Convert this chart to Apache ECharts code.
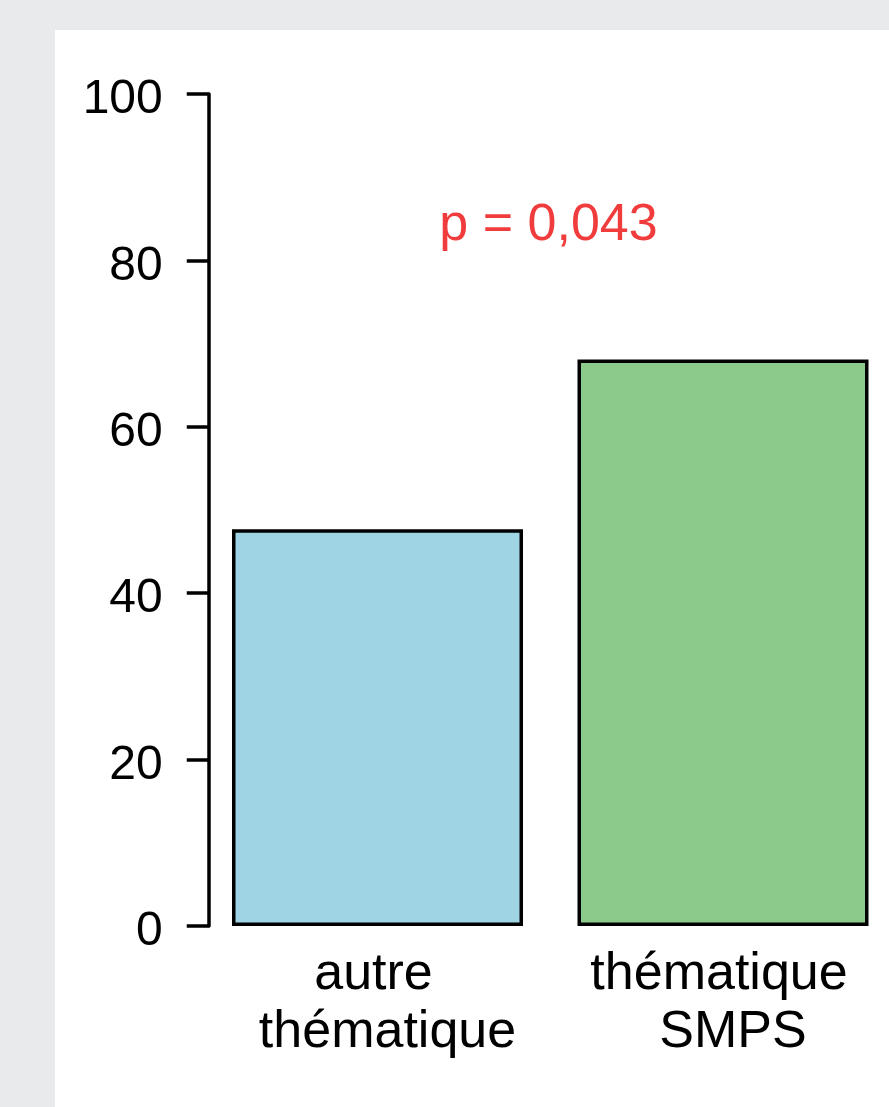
<!DOCTYPE html>
<html>
<head>
<meta charset="utf-8">
<script src="https://cdn.jsdelivr.net/npm/echarts@6/dist/echarts.min.js"></script>
<style>
html,body{margin:0;padding:0;background:#e9eaec;}
#panel{position:absolute;left:55px;top:30px;right:0;bottom:0;background:#ffffff;}
#chart{position:absolute;left:0;top:0;width:889px;height:1107px;}
</style>
</head>
<body>
<div id="panel"></div>
<div id="chart"></div>
<script>
var categories = ['autre\nthématique', 'thématique\nSMPS'];
var values = [47.7, 68.1];
var barColors = ['#9ed4e4', '#8cca8c'];
var yTicks = [0, 20, 40, 60, 80, 100];
var annotation = 'p = 0,043';

var chart = echarts.init(document.getElementById('chart'), null, {renderer: 'canvas'});
var font = '"Liberation Sans", Arial, sans-serif';
var xFont = {color: '#000', fontFamily: font, fontSize: 52, lineHeight: 58};
chart.setOption({
  backgroundColor: 'transparent',
  animation: false,
  grid: {left: 204.75, top: 94, width: 691, height: 832, containLabel: false, outerBoundsMode: 'none'},
  xAxis: {
    type: 'category',
    data: categories,
    axisLine: {show: false},
    axisTick: {show: false},
    axisLabel: {
      color: '#000', fontFamily: font, fontSize: 52, lineHeight: 58,
      margin: 20, interval: 0,
      formatter: function (v) {
        var p = v.split('\n');
        return '{l1|' + p[0] + '}\n{l2|' + p[1] + '}';
      },
      rich: {
        l1: Object.assign({padding: [0, 8, 0, 0]}, xFont),
        l2: Object.assign({padding: [0, 0, 0, 20]}, xFont)
      }
    },
    splitLine: {show: false}
  },
  yAxis: {
    type: 'value',
    min: yTicks[0], max: yTicks[yTicks.length - 1], interval: 20,
    offset: -4,
    axisLine: {show: true, lineStyle: {color: '#000', width: 3.5}},
    axisTick: {show: true, inside: false, length: 22, lineStyle: {color: '#000', width: 3.5}},
    axisLabel: {color: '#000', fontFamily: font, fontSize: 48, margin: 46, verticalAlign: 'top', lineHeight: 12},
    splitLine: {show: false}
  },
  series: [{
    type: 'bar',
    barWidth: 291,
    data: values.map(function (v, i) {
      return {value: v, itemStyle: {color: barColors[i], borderColor: '#000', borderWidth: 3.5}};
    })
  }],
  graphic: [{
    type: 'text',
    x: 548.5, y: 200,
    style: {text: annotation, fill: '#f03c3c', font: '52px ' + font, align: 'center', verticalAlign: 'top'}
  }]
});
</script>
</body>
</html>
